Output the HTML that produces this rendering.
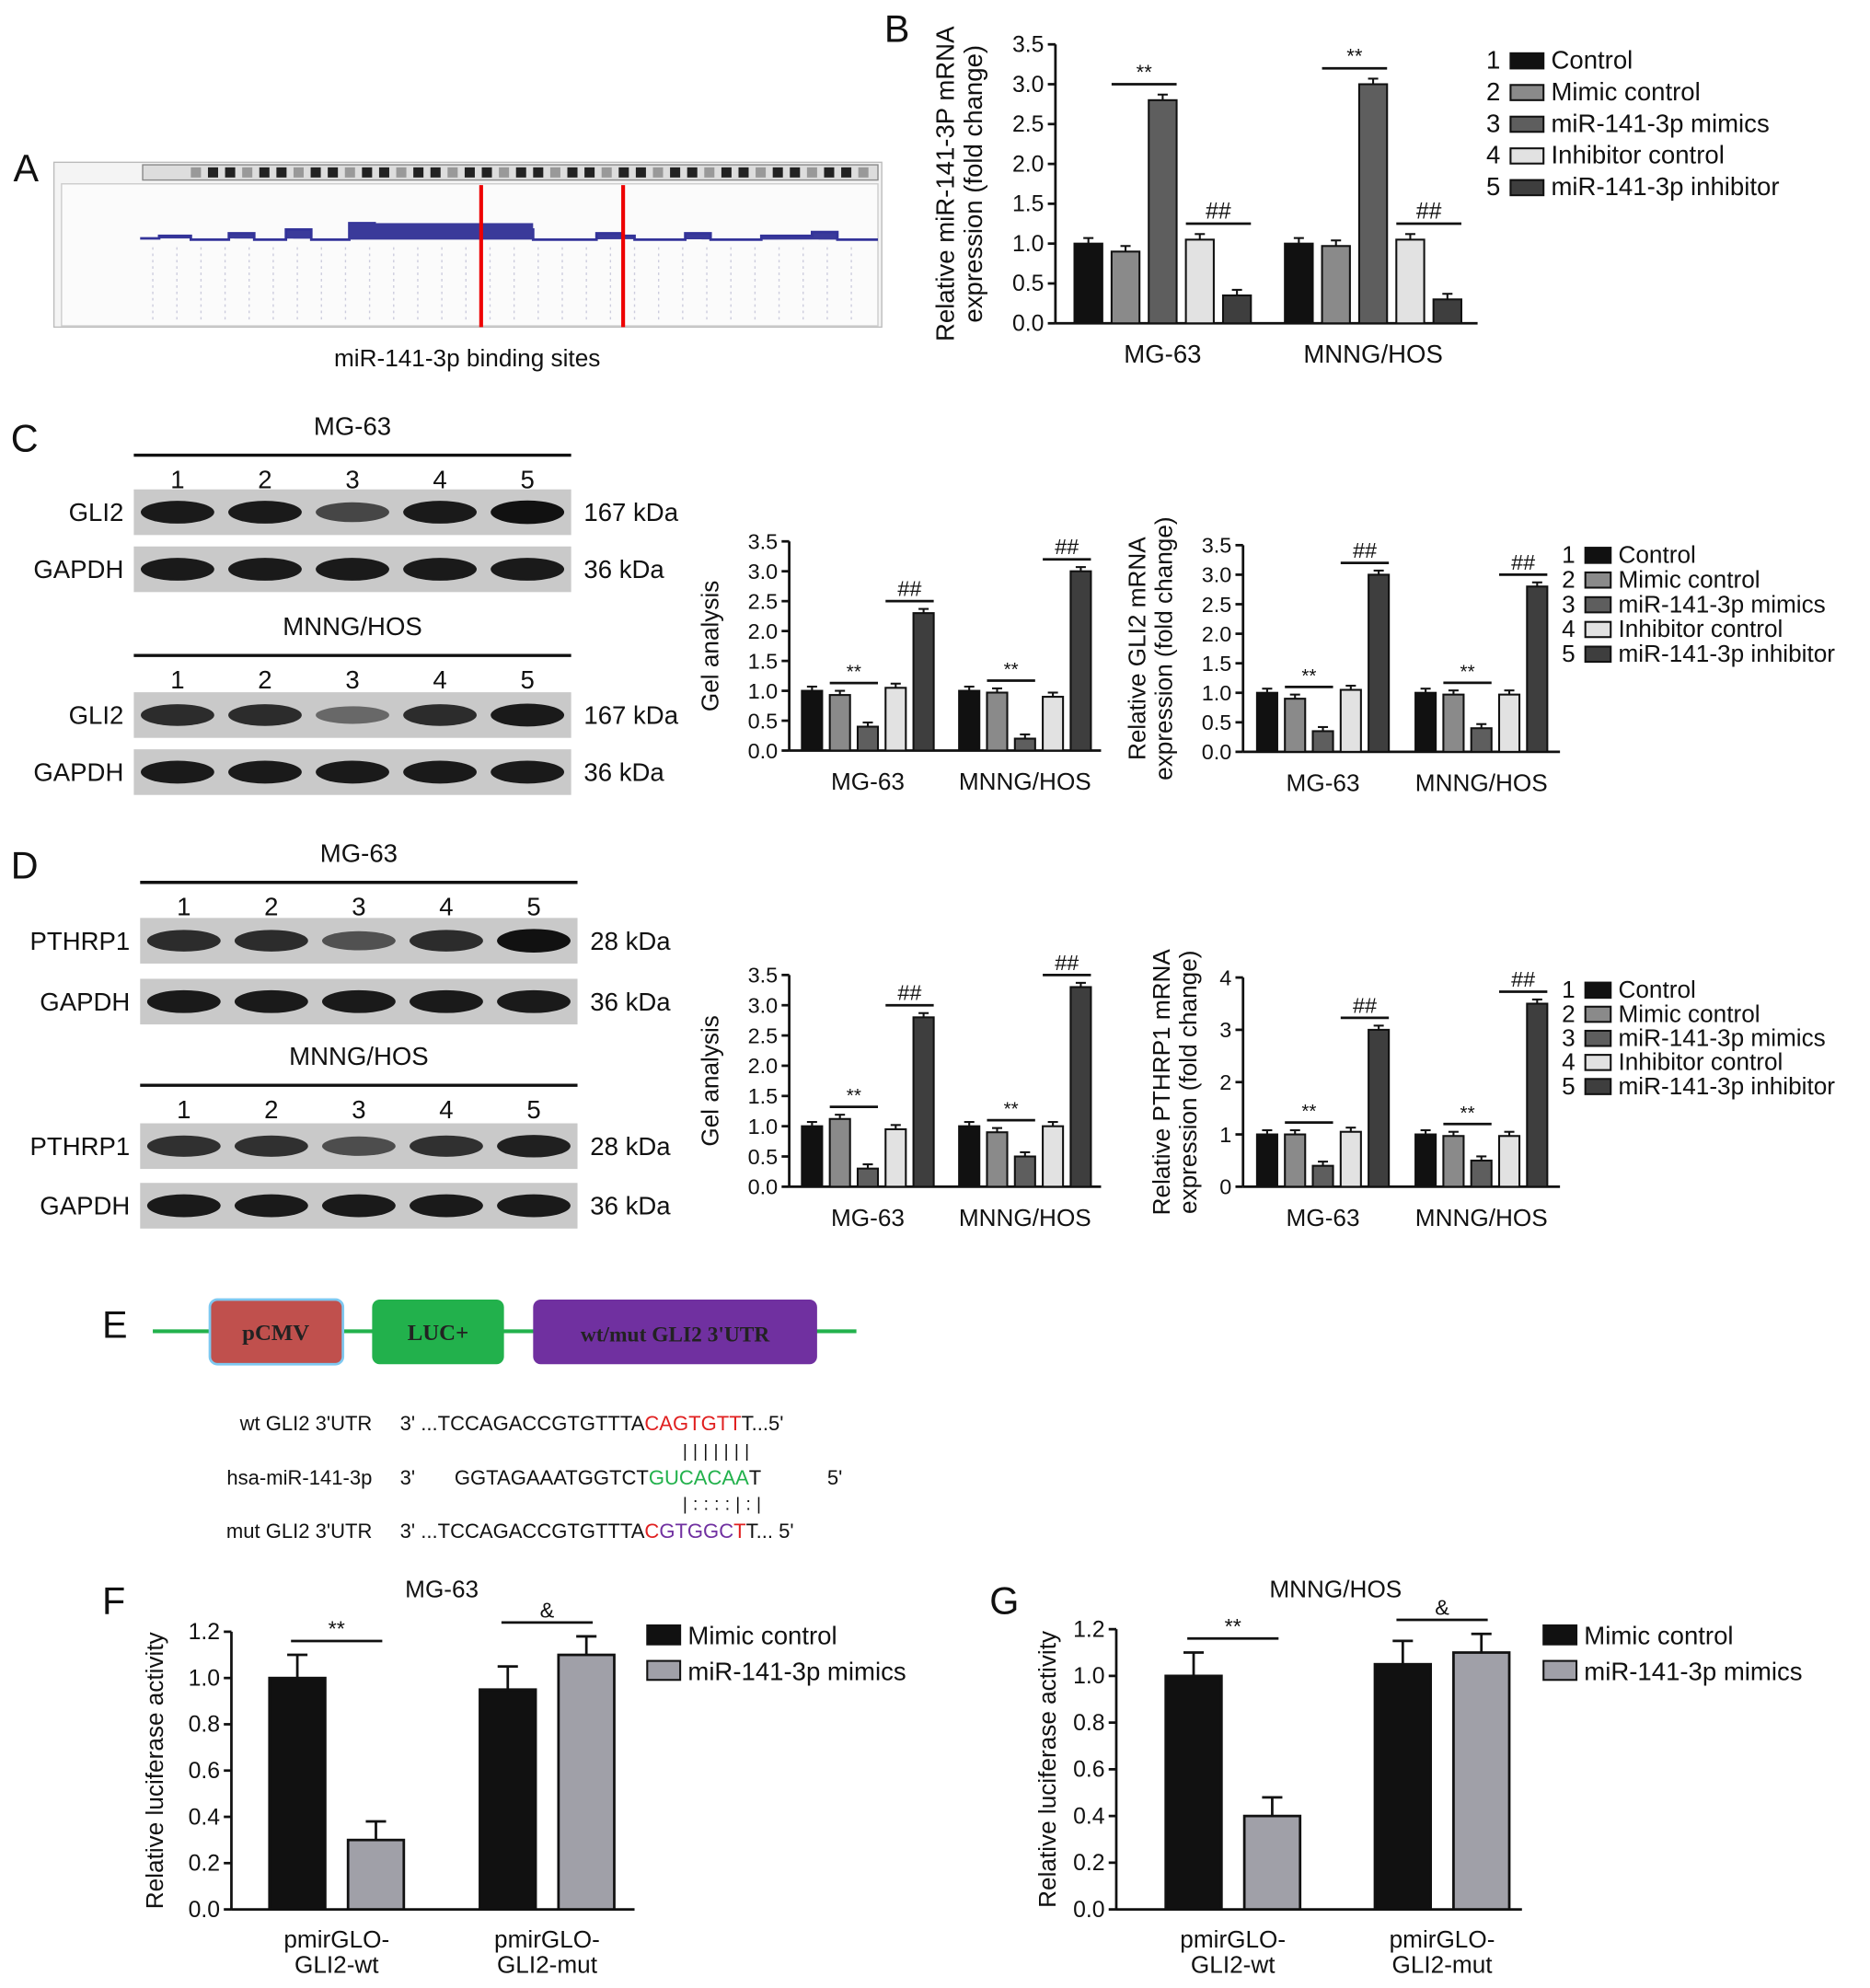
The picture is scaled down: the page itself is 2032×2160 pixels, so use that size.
<!DOCTYPE html>
<html><head><meta charset="utf-8"><style>
html,body{margin:0;padding:0;background:#fff}
svg{display:block}
text{font-family:"Liberation Sans",Arial,sans-serif;fill:#111}
</style></head><body>
<svg id="fig" width="2032" height="2160" viewBox="0 0 1474 1568" xmlns="http://www.w3.org/2000/svg">
<rect width="1474" height="1568" fill="#fff"/>
<!-- Panel labels -->
<g font-size="30">
<text x="10" y="143">A</text><text x="697" y="33">B</text><text x="8" y="356">C</text>
<text x="8" y="693">D</text><text x="80" y="1055">E</text><text x="80" y="1273">F</text><text x="780" y="1273">G</text>
</g>
<!-- Panel A genome browser -->
<g>
<rect x="42" y="128" width="653" height="130" fill="#f4f4f4" stroke="#bbb"/>
<rect x="112" y="130" width="580" height="12" fill="#ddd" stroke="#888"/>
<g id="ideo"></g>
<rect x="48" y="145" width="644" height="112" fill="#fbfbfb" stroke="#ccc"/>
<path d="M110 188 H125 V186 H150 V189 H180 V184 H200 V189 H225 V181 H245 V189 H275 V176 H295 V179 H320 V182 H360 V180 H380 V181 H420 V189 H470 V184 H490 V186 H500 V189 H540 V184 H560 V189 H600 V186 H640 V183 H660 V189 H692" stroke="#333399" fill="#3a3a9a" stroke-width="2"/>
<rect x="275" y="176" width="145" height="13" fill="#3a3a9a"/>
<g id="cols"></g>
<line x1="379" y1="146" x2="379" y2="258" stroke="#e00" stroke-width="3"/>
<line x1="491" y1="146" x2="491" y2="258" stroke="#e00" stroke-width="3"/>
</g>
<text x="368" y="289" font-size="19" text-anchor="middle">miR-141-3p binding sites</text>
<g id="blots"></g>
<g id="charts"></g>
<!-- Panel E -->
<g>
<line x1="120" y1="1050" x2="675" y2="1050" stroke="#22b14c" stroke-width="3"/>
<rect x="165" y="1025" width="105" height="51" rx="6" fill="#c0504d" stroke="#7ec8f0" stroke-width="2"/>
<rect x="293" y="1025" width="104" height="51" rx="6" fill="#22b14c"/>
<rect x="420" y="1025" width="224" height="51" rx="6" fill="#7030a0"/>
<text x="217" y="1057" font-size="18" text-anchor="middle" font-family="Liberation Serif" font-weight="bold" style="fill:#222;font-family:'Liberation Serif'">pCMV</text>
<text x="345" y="1057" font-size="18" text-anchor="middle" font-weight="bold" style="fill:#222;font-family:'Liberation Serif'">LUC+</text>
<text x="532" y="1058" font-size="17" text-anchor="middle" font-weight="bold" style="fill:#222;font-family:'Liberation Serif'">wt/mut GLI2 3'UTR</text>
</g>
<g font-size="16">
<text x="293" y="1128" text-anchor="end">wt GLI2 3'UTR</text>
<text x="293" y="1171" text-anchor="end">hsa-miR-141-3p</text>
<text x="293" y="1213" text-anchor="end">mut GLI2 3'UTR</text>
<text x="315" y="1128">3' ...TCCAGACCGTGTTTA<tspan style="fill:#e02020">CAGTGTT</tspan>T...5'</text>
<text x="315" y="1171">3'</text><text x="358" y="1171">GGTAGAAATGGTCT<tspan style="fill:#22b14c">GUCACAA</tspan>T</text><text x="652" y="1171">5'</text>
<text x="315" y="1213">3' ...TCCAGACCGTGTTTA<tspan style="fill:#e02020">C</tspan><tspan style="fill:#7030a0">GTGGC</tspan><tspan style="fill:#e02020">T</tspan>T... 5'</text>
<text x="538" y="1149" font-size="14" letter-spacing="4.5">|||||||</text>
<text x="538" y="1191" font-size="14" letter-spacing="4.5">|::::|:|</text>
</g>
<text x="348" y="1260" font-size="19" text-anchor="middle">MG-63</text>
<text x="1053" y="1260" font-size="19" text-anchor="middle">MNNG/HOS</text>
</svg>
<script>
const NS='http://www.w3.org/2000/svg';
function el(tag,attrs,parent,txt){const e=document.createElementNS(NS,tag);for(const k in attrs)e.setAttribute(k,attrs[k]);if(txt!==undefined)e.textContent=txt;(parent||document.getElementById('fig')).appendChild(e);return e;}
// ideogram + columns for panel A
const ideo=document.getElementById('ideo');
for(let i=0;i<40;i++){const r=el('rect',{x:150+i*13.5,y:132,width:8,height:8,fill:i%3?'#222':'#999'},ideo);}
const cols=document.getElementById('cols');
for(let i=0;i<30;i++){el('line',{x1:120+i*19,y1:195,x2:120+i*19,y2:255,stroke:'#ccd',"stroke-width":1,"stroke-dasharray":"2,3"},cols);}

// ===== Chart data =====
const groups=['MG-63','MNNG/HOS'];
const legend5=['Control','Mimic control','miR-141-3p mimics','Inhibitor control','miR-141-3p inhibitor'];
const colors5=['#111','#8a8a8a','#5e5e5e','#e2e2e2','#3e3e3e'];
const bMG=[1.0,0.9,2.8,1.05,0.35], bMN=[1.0,0.97,3.0,1.05,0.3];
const cGelMG=[1.0,0.93,0.4,1.05,2.3], cGelMN=[1.0,0.97,0.2,0.9,3.0];
const cMrMG=[1.0,0.9,0.35,1.05,3.0], cMrMN=[1.0,0.97,0.4,0.97,2.8];
const dGelMG=[1.0,1.12,0.3,0.95,2.8], dGelMN=[1.0,0.9,0.5,1.0,3.3];
const dMrMG=[1.0,1.0,0.4,1.05,3.0], dMrMN=[1.0,0.97,0.5,0.97,3.5];
const ticks35=['0.0','0.5','1.0','1.5','2.0','2.5','3.0','3.5'];
const ticks4=['0','1','2','3','4'];
const ticks12=['0.0','0.2','0.4','0.6','0.8','1.0','1.2'];
const lucCats=['pmirGLO-|GLI2-wt','pmirGLO-|GLI2-mut'];
const lucLegend=['Mimic control','miR-141-3p mimics'];
const fMimicCtl=[1.0,0.95], fMimic=[0.3,1.1];
const gMimicCtl=[1.0,1.05], gMimic=[0.4,1.1];

const charts=document.getElementById('charts');
function chart5(o){
  const g=el('g',{},charts);
  
  
  const ymax=parseFloat(o.ticks[o.ticks.length-1]);
  const Y=v=>o.y0-(v/ymax)*(o.y0-o.y1);
  el('line',{x1:o.x0,y1:o.y1,x2:o.x0,y2:o.y0,stroke:'#111','stroke-width':2},g);
  el('line',{x1:o.x0,y1:o.y0,x2:o.x2,y2:o.y0,stroke:'#111','stroke-width':2},g);
  o.ticks.forEach(t=>{const y=Y(parseFloat(t));el('line',{x1:o.x0-6,y1:y,x2:o.x0,y2:y,stroke:'#111','stroke-width':2},g);
    const tx=el('text',{x:o.x0-9,y:y+6,'font-size':o.fs,'text-anchor':'end'},g,t);});
  const series=[o.a,o.b];
  series.forEach((vals,gi)=>{
    const gx=o.gx[gi];
    vals.forEach((v,i)=>{
      const cx=gx+i*o.step, y=Y(v), e=0.07*ymax/3.5;
      const r=el('rect',{x:cx-o.bw/2,y:y,width:o.bw,height:o.y0-y,fill:colors5[i],stroke:'#111','stroke-width':1.5},g);
      
      
      el('line',{x1:cx,y1:y,x2:cx,y2:Y(v+e),stroke:'#111','stroke-width':1.5},g);
      el('line',{x1:cx-4,y1:Y(v+e),x2:cx+4,y2:Y(v+e),stroke:'#111','stroke-width':1.5},g);
    });
    const ct=el('text',{x:gx+2*o.step,y:o.y0+31,'font-size':o.fs+2,'text-anchor':'middle'},g,groups[gi]);
    // significance marks
    const s1=o.sig1, i1=o.sig1i;
    let top=Math.max(vals[i1[0]],vals[i1[1]])+0.2*ymax/3.5;
    let yy=Y(top); const xa=gx+i1[0]*o.step-o.bw/2, xb=gx+i1[1]*o.step+o.bw/2;
    el('line',{x1:xa,y1:yy,x2:xb,y2:yy,stroke:'#111','stroke-width':2},g);
    el('text',{x:(xa+xb)/2,y:yy-4,'font-size':o.fs-2,'text-anchor':'middle'},g,s1);
    top=Math.max(vals[3],vals[4])+0.2*ymax/3.5; yy=Y(top);
    const xc=gx+3*o.step-o.bw/2, xd=gx+4*o.step+o.bw/2;
    el('line',{x1:xc,y1:yy,x2:xd,y2:yy,stroke:'#111','stroke-width':2},g);
    el('text',{x:(xc+xd)/2,y:yy-4,'font-size':o.fs,'text-anchor':'middle'},g,'##');
  });
  const lines=o.ylabel.split('|');
  const cx=o.ylx, cy=(o.y0+o.y1)/2;
  lines.forEach((l,i)=>{el('text',{x:cx+i*(o.fs+4),y:cy,'font-size':o.fs+2,'text-anchor':'middle',transform:`rotate(-90 ${cx+i*(o.fs+4)} ${cy})`},g,l);});
  if(o.leg){
    legend5.forEach((l,i)=>{const y=o.leg.y+i*o.leg.dy;
      el('text',{x:o.leg.x,y:y+6,'font-size':o.leg.fs,'text-anchor':'end'},g,String(i+1));
      const r=el('rect',{x:o.leg.x+8,y:y-6,width:o.leg.w,height:12,fill:colors5[i],stroke:'#111','stroke-width':1.5},g);
      
      
      el('text',{x:o.leg.x+o.leg.w+14,y:y+6,'font-size':o.leg.fs},g,l);
    });
  }
}
chart5({name:'chart-b',x0:832,x2:1165,y0:255,y1:35,ticks:ticks35,a:bMG,b:bMN,gx:[858,1024],step:29.3,bw:22,fs:18,sig1:'**',sig1i:[1,2],ylabel:'Relative miR-141-3P mRNA|expression (fold change)',ylx:752,leg:{x:1183,y:48,dy:25,w:26,fs:20}});
chart5({name:'chart-c-gel',x0:622,x2:868,y0:592,y1:427,ticks:ticks35,a:cGelMG,b:cGelMN,gx:[640,764],step:22,bw:16,fs:17,sig1:'**',sig1i:[1,2],ylabel:'Gel analysis',ylx:566});
chart5({name:'chart-c-mrna',x0:980,x2:1230,y0:593,y1:430,ticks:ticks35,a:cMrMG,b:cMrMN,gx:[999,1124],step:22,bw:16,fs:17,sig1:'**',sig1i:[1,2],ylabel:'Relative GLI2 mRNA|expression (fold change)',ylx:903,leg:{x:1242,y:438,dy:19.5,w:20,fs:19}});
chart5({name:'chart-d-gel',x0:622,x2:868,y0:936,y1:769,ticks:ticks35,a:dGelMG,b:dGelMN,gx:[640,764],step:22,bw:16,fs:17,sig1:'**',sig1i:[1,2],ylabel:'Gel analysis',ylx:566});
chart5({name:'chart-d-mrna',x0:980,x2:1230,y0:936,y1:771,ticks:ticks4,a:dMrMG,b:dMrMN,gx:[999,1124],step:22,bw:16,fs:17,sig1:'**',sig1i:[1,2],ylabel:'Relative PTHRP1 mRNA|expression (fold change)',ylx:922,leg:{x:1242,y:781,dy:19,w:20,fs:19}});

function lucChart(o){
  const g=el('g',{},charts);
  
  
  const Y=v=>o.y0-(v/1.2)*(o.y0-o.y1);
  el('line',{x1:o.x0,y1:o.y1,x2:o.x0,y2:o.y0,stroke:'#111','stroke-width':2},g);
  el('line',{x1:o.x0,y1:o.y0,x2:o.x2,y2:o.y0,stroke:'#111','stroke-width':2},g);
  ticks12.forEach(t=>{const y=Y(parseFloat(t));el('line',{x1:o.x0-6,y1:y,x2:o.x0,y2:y,stroke:'#111','stroke-width':2},g);el('text',{x:o.x0-9,y:y+6,'font-size':18,'text-anchor':'end'},g,t);});
  const errs=[0.1,0.08];
  [o.a,o.b].forEach((vals,si)=>{vals.forEach((v,ci)=>{
    const cx=o.cx[ci]+si*o.dx, y=Y(v);
    const r=el('rect',{x:cx-22,y:y,width:44,height:o.y0-y,fill:si?'#a0a0a8':'#111',stroke:'#111','stroke-width':2},g);
    
    
    const e=errs[si];
    el('line',{x1:cx,y1:y,x2:cx,y2:Y(v+e),stroke:'#111','stroke-width':2},g);
    el('line',{x1:cx-8,y1:Y(v+e),x2:cx+8,y2:Y(v+e),stroke:'#111','stroke-width':2},g);
  });});
  lucCats.forEach((c,ci)=>{const mx=o.cx[ci]+o.dx/2;c.split('|').forEach((l,li)=>el('text',{x:mx,y:o.y0+30+li*20,'font-size':19,'text-anchor':'middle'},g,l));});
  const marks=['**','&'];
  [0,1].forEach(ci=>{const top=Math.max(o.a[ci]+0.1,o.b[ci]+0.08)+0.06;const yy=Y(top);
    const xa=o.cx[ci]-5,xb=o.cx[ci]+o.dx+5;
    el('line',{x1:xa,y1:yy,x2:xb,y2:yy,stroke:'#111','stroke-width':2},g);
    el('text',{x:(xa+xb)/2,y:yy-4,'font-size':17,'text-anchor':'middle'},g,marks[ci]);});
  const cy=(o.y0+o.y1)/2;
  el('text',{x:o.ylx,y:cy,'font-size':19,'text-anchor':'middle',transform:`rotate(-90 ${o.ylx} ${cy})`},g,'Relative luciferase activity');
  lucLegend.forEach((l,i)=>{const y=o.ly+i*28;
    el('rect',{x:o.lx,y:y-8,width:26,height:15,fill:i?'#a0a0a8':'#111',stroke:'#111','stroke-width':1.5},g);
    el('text',{x:o.lx+32,y:y+7,'font-size':20},g,l);});
}
lucChart({name:'chart-f',x0:182,x2:500,y0:1506,y1:1287,a:fMimicCtl,b:fMimic,cx:[234,400],dx:62,ylx:128,lx:510,ly:1290});
lucChart({name:'chart-g',x0:880,x2:1200,y0:1506,y1:1285,a:gMimicCtl,b:gMimic,cx:[941,1106],dx:62,ylx:832,lx:1217,ly:1290});

// ===== Western blots =====
const blots=document.getElementById('blots');
const intC1=[1,1,0.6,1,1.1], intC2=[0.85,0.85,0.3,0.85,1.0], intD1=[0.85,0.85,0.5,0.85,1.1], intD2=[0.8,0.8,0.55,0.8,0.95];
function blotSet(o){
  const g=el('g',{},blots);
  
  
  el('text',{x:(o.x0+o.x1)/2,y:o.ty,'font-size':20,'text-anchor':'middle'},g,o.title);
  el('line',{x1:o.x0,y1:o.ty+16,x2:o.x1,y2:o.ty+16,stroke:'#111','stroke-width':2.5},g);
  const w=(o.x1-o.x0)/5;
  for(let i=0;i<5;i++)el('text',{x:o.x0+w*(i+0.5),y:o.ty+42,'font-size':20,'text-anchor':'middle'},g,String(i+1));
  [[o.p,o.py,o.pk,o.int],['GAPDH',o.gy,'36 kDa',[1,1,1,1,1]]].forEach(([lab,y,kd,ints])=>{
    el('rect',{x:o.x0,y:y,width:o.x1-o.x0,height:36,fill:'#c9c9c9'},g);
    ints.forEach((v,i)=>{const cx=o.x0+w*(i+0.5);
      el('ellipse',{cx:cx,cy:y+18,rx:w*0.42,ry:6+3*v,fill:'#111','fill-opacity':Math.min(1,0.35+0.6*v)},g);});
    el('text',{x:o.x0-8,y:y+25,'font-size':20,'text-anchor':'end'},g,lab);
    el('text',{x:o.x1+10,y:y+25,'font-size':20},g,kd);
  });
}
blotSet({name:'blot-c-mg63',x0:105,x1:450,ty:343,title:'MG-63',p:'GLI2',py:386,pk:'167  kDa',int:intC1,gy:431});
blotSet({name:'blot-c-mnng',x0:105,x1:450,ty:501,title:'MNNG/HOS',p:'GLI2',py:546,pk:'167 kDa',int:intC2,gy:591});
blotSet({name:'blot-d-mg63',x0:110,x1:455,ty:680,title:'MG-63',p:'PTHRP1',py:724,pk:'28 kDa',int:intD1,gy:772});
blotSet({name:'blot-d-mnng',x0:110,x1:455,ty:840,title:'MNNG/HOS',p:'PTHRP1',py:886,pk:'28 kDa',int:intD2,gy:933});
</script>
</body></html>
